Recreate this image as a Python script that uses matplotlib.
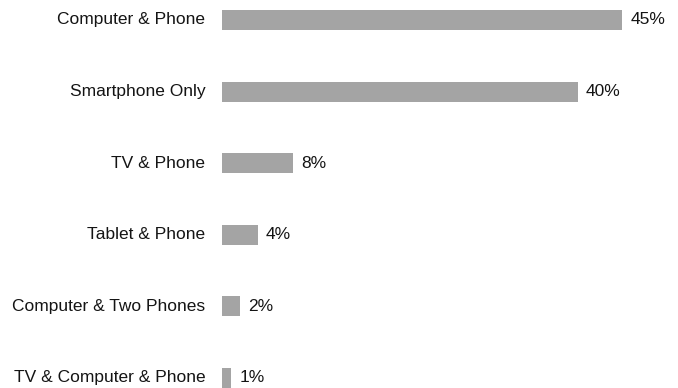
import matplotlib
matplotlib.use("Agg")
import matplotlib.pyplot as plt

plt.rcParams["font.family"] = ["Liberation Sans", "DejaVu Sans"]

categories = ["Computer & Phone", "Smartphone Only", "TV & Phone", "Tablet & Phone",
              "Computer & Two Phones", "TV & Computer & Phone"]
shares = [45, 40, 8, 4, 2, 1]

BAR = "#a4a4a4"
TXT = "#141414"

fig = plt.figure(figsize=(6.78, 3.88), dpi=100)
ax = fig.add_axes([222 / 678, 0, 444.5 / 678, 1])

ypos = list(range(len(categories)))
ax.barh(ypos, shares, height=0.28, color=BAR, edgecolor="none")
ax.set_xlim(0, 50)
ax.set_ylim(5.14, -0.279)

for y, cat, v in zip(ypos, categories, shares):
    ax.annotate(cat, xy=(0, y), xytext=(-12, 0), textcoords="offset points",
                ha="right", va="center", fontsize=12.5, color=TXT)
    ax.annotate(f"{v}%", xy=(v, y), xytext=(6, 0), textcoords="offset points",
                ha="left", va="center", fontsize=12.5, color=TXT)

ax.axis("off")
fig.savefig("out.png", dpi=100)
